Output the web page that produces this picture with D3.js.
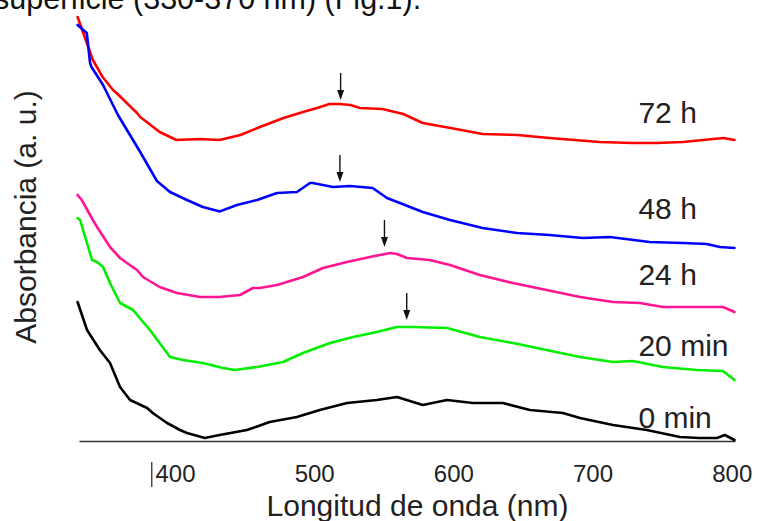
<!DOCTYPE html>
<html>
<head>
<meta charset="utf-8">
<script src="https://cdn.jsdelivr.net/npm/d3@7"></script>
<style>
  html, body { margin: 0; padding: 0; background: #fff; overflow: hidden; }
  svg { display: block; font-family: "Liberation Sans", Arial, sans-serif; }
</style>
</head>
<body>
<svg id="chart" width="758" height="521"></svg>
<script>
// ---------- data ----------
const seriesNames = ["72 h", "48 h", "24 h", "20 min", "0 min"];

const wl_72h  = [330, 341, 348, 355.5, 358, 372.7, 375, 389, 401, 418, 432, 447, 461, 478, 492, 502, 511, 518.5, 526, 533, 549, 564, 578, 598, 621, 646, 669, 705, 729, 746, 765, 794, 802];
const abs_72h = [2.12, 1.905, 1.82, 1.755, 1.74, 1.64, 1.62, 1.545, 1.505, 1.51, 1.505, 1.53, 1.57, 1.615, 1.645, 1.665, 1.685, 1.685, 1.68, 1.665, 1.66, 1.635, 1.59, 1.565, 1.535, 1.53, 1.515, 1.495, 1.49, 1.49, 1.495, 1.515, 1.505];

const wl_48h  = [330, 336.6, 339, 340, 348.3, 359, 375, 387, 396.4, 408.6, 420, 432.3, 444.5, 459, 473.3, 487.6, 497, 499, 513.5, 525.7, 542, 552.3, 561.6, 578, 597.6, 621, 645.7, 669, 693, 712.5, 741, 765, 782, 791.5, 802];
const abs_48h = [2.08, 2.04, 1.89, 1.87, 1.78, 1.63, 1.445, 1.30, 1.245, 1.205, 1.17, 1.148, 1.18, 1.205, 1.24, 1.245, 1.29, 1.29, 1.27, 1.275, 1.265, 1.215, 1.19, 1.145, 1.105, 1.065, 1.04, 1.03, 1.015, 1.02, 0.995, 0.99, 0.985, 0.97, 0.965];

const wl_24h  = [330, 333, 341, 344, 353.3, 360.5, 365.5, 372.7, 377, 389, 401.4, 418, 432, 446.7, 456, 461, 473.3, 492, 506.3, 523.6, 540, 554.5, 559.5, 566.7, 583, 597.6, 619, 642.8, 667, 691, 714.7, 734, 750.6, 775, 793.7, 802];
const abs_24h = [1.23, 1.205, 1.105, 1.07, 0.97, 0.915, 0.89, 0.855, 0.82, 0.77, 0.74, 0.72, 0.72, 0.73, 0.765, 0.765, 0.78, 0.82, 0.865, 0.895, 0.92, 0.94, 0.935, 0.915, 0.905, 0.88, 0.83, 0.79, 0.755, 0.72, 0.695, 0.69, 0.67, 0.67, 0.67, 0.645];

const wl_20min  = [330, 331.8, 340.4, 344, 348.3, 353.3, 360.5, 369.8, 382, 396.4, 405.7, 420, 434.5, 443, 459, 477.6, 492, 511.4, 528, 545, 559.5, 571, 595.4, 619, 642.8, 667, 691, 714.7, 729, 750.6, 775, 793.7, 802];
const abs_20min = [1.115, 1.105, 0.905, 0.895, 0.87, 0.79, 0.69, 0.655, 0.555, 0.42, 0.405, 0.39, 0.365, 0.355, 0.37, 0.395, 0.44, 0.49, 0.52, 0.545, 0.57, 0.57, 0.565, 0.52, 0.49, 0.455, 0.42, 0.395, 0.40, 0.37, 0.355, 0.35, 0.305];

const wl_0min  = [330, 336.8, 346, 353.3, 360.5, 367.7, 380, 384, 394.3, 403.6, 408.6, 421.5, 432, 451.7, 468, 487.6, 504, 523.6, 545, 559.5, 578, 595.4, 614, 635.6, 655, 678.7, 691, 714.7, 739, 762.8, 777, 789.4, 795, 802];
const abs_0min = [0.695, 0.555, 0.455, 0.39, 0.27, 0.205, 0.165, 0.14, 0.09, 0.055, 0.04, 0.015, 0.03, 0.055, 0.095, 0.12, 0.155, 0.19, 0.205, 0.22, 0.18, 0.205, 0.19, 0.19, 0.155, 0.14, 0.115, 0.08, 0.055, 0.02, 0.015, 0.015, 0.03, 0.005];

// peak arrows (72 h, 48 h, 24 h, 20 min)
const peakWl  = [519, 518.5, 550.5, 566.5];
const peakAbs = [1.705, 1.295, 0.97, 0.605];

// label anchor absorbance (text baseline) for each series
const labelAbs = [1.59, 1.11, 0.78, 0.425, 0.065];

const xTicks = [400, 500, 600, 700, 800];
const xTitle = "Longitud de onda (nm)";
const yTitle = "Absorbancia (a. u.)";
const headerText = "superficie (330-370 nm) (Fig.1).";

// ---------- styles ----------
const colors = ["#ff0000", "#0000ff", "#ff1493", "#00ee00", "#000000"];

// ---------- drawing ----------
const svg = d3.select("#chart");
const x = d3.scaleLinear().domain([400, 800]).range([175, 731.7]);
const y = d3.scaleLinear().domain([0, 2.1]).range([441, 21]);

// header text (cut at the top edge, as in the source figure)
svg.append("text")
  .attr("x", -6).attr("y", 8.5)
  .attr("font-size", 30.5).attr("fill", "#111")
  .text(headerText);

const wlArr = [wl_72h, wl_48h, wl_24h, wl_20min, wl_0min];
const absArr = [abs_72h, abs_48h, abs_24h, abs_20min, abs_0min];

const line = d3.line()
  .x(d => x(d[0]))
  .y(d => y(d[1]))
  .curve(d3.curveLinear);

// baseline axis
const axisScale = x.copy().domain([331, 802.4]).range([x(331), x(802.4)]);
const xAxis = svg.append("g")
  .attr("transform", `translate(0,${y(0)})`)
  .call(d3.axisBottom(axisScale).tickValues(xTicks).tickSize(0).tickSizeOuter(0).tickFormat(d3.format("d")));
xAxis.select(".domain").attr("stroke", "#333").attr("stroke-width", 1.6);
xAxis.selectAll(".tick text")
  .attr("y", 41).attr("dy", 0)
  .attr("font-size", 24).attr("fill", "#222")
  .attr("font-family", "'Liberation Sans', Arial, sans-serif");

// small stray tick mark left of "400"
svg.append("line")
  .attr("x1", x(383.3)).attr("x2", x(383.3))
  .attr("y1", y(0) + 21).attr("y2", y(0) + 46)
  .attr("stroke", "#333").attr("stroke-width", 1.3);

// curves
seriesNames.forEach((name, i) => {
  const pts = wlArr[i].map((w, k) => [w, absArr[i][k]]);
  svg.append("path")
    .datum(pts)
    .attr("d", line)
    .attr("fill", "none")
    .attr("stroke", colors[i])
    .attr("stroke-width", 2.6)
    .attr("stroke-linejoin", "round")
    .attr("stroke-linecap", "round");
});

// arrows
const arrowLen = 27;
peakWl.forEach((w, i) => {
  const px = x(w), tip = y(peakAbs[i]);
  svg.append("line")
    .attr("x1", px).attr("x2", px)
    .attr("y1", tip - arrowLen).attr("y2", tip - 8)
    .attr("stroke", "#111").attr("stroke-width", 1.4);
  svg.append("path")
    .attr("d", `M${px - 3.5},${tip - 10} L${px + 3.5},${tip - 10} L${px},${tip} Z`)
    .attr("fill", "#111");
});

// series labels
seriesNames.forEach((name, i) => {
  svg.append("text")
    .attr("x", x(733))
    .attr("y", y(labelAbs[i]))
    .attr("font-size", 30)
    .attr("fill", "#222")
    .text(name);
});

// axis titles
svg.append("text")
  .attr("x", 417.5).attr("y", 516)
  .attr("text-anchor", "middle")
  .attr("font-size", 30).attr("fill", "#222")
  .text(xTitle);

svg.append("text")
  .attr("transform", "translate(36,217) rotate(-90)")
  .attr("text-anchor", "middle")
  .attr("font-size", 30).attr("fill", "#222")
  .text(yTitle);
</script>
</body>
</html>
